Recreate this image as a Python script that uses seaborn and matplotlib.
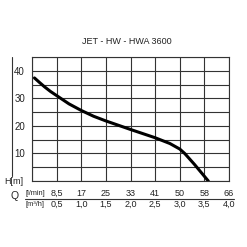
import numpy as np
import pandas as pd
import matplotlib
matplotlib.use("Agg")
import matplotlib.pyplot as plt
import matplotlib.transforms as mtransforms
import seaborn as sns

# curve data (Q in m3/h, H in m)
q_m3h = [0.05, 0.15, 0.26, 0.375, 0.5, 0.75, 1.0, 1.25, 1.5, 2.0, 2.5, 2.8, 3.0, 3.1, 3.3, 3.58]
h_m = [37.4, 35.8, 34.1, 32.5, 31.0, 28.0, 25.6, 23.5, 21.8, 18.7, 15.7, 13.6, 11.6, 10.0, 6.0, 0.0]

tick_pos = [0.5, 1.0, 1.5, 2.0, 2.5, 3.0, 3.5, 4.0]
lmin_labels = ["8,5", "17", "25", "33", "41", "50", "58", "66"]
m3h_labels = ["0,5", "1,0", "1,5", "2,0", "2,5", "3,0", "3,5", "4,0"]
y_ticks = [10, 20, 30, 40]

sns.set_style("white")
plt.rcParams["font.family"] = ["Liberation Sans", "DejaVu Sans"]

W = 247.0
fig = plt.figure(figsize=(2.47, 2.47), dpi=100)
ax = fig.add_axes([32 / W, 1 - 181 / W, 197 / W, 124 / W])

df = pd.DataFrame({"Q": q_m3h, "H": h_m})
sns.lineplot(data=df, x="Q", y="H", ax=ax, color="black", linewidth=2.2, sort=False)

ax.set_xlim(0, 4)
ax.set_ylim(0, 45)
ax.set_xticks(np.arange(0, 4.01, 0.5))
ax.set_yticks(np.arange(0, 45.1, 5), minor=True)
ax.set_yticks(y_ticks)
ax.set_xticklabels([])
ax.set_yticklabels([str(v) for v in y_ticks], fontsize=7, color="#222222")
ax.tick_params(axis="both", length=0, pad=5)
ax.grid(True, which="both", color="#333333", linewidth=0.8)
ax.set_axisbelow(True)
for s in ax.spines.values():
    s.set_color("#333333")
    s.set_linewidth(0.8)
ax.set_xlabel("")
ax.set_ylabel("")

# two-row flow axis below the chart
trans = mtransforms.blended_transform_factory(ax.transData, fig.transFigure)
for x, a, b in zip(tick_pos, lmin_labels, m3h_labels):
    ax.text(x, 1 - 193 / W, a, transform=trans, ha="center", va="center", fontsize=6.5, color="#222222")
    ax.text(x, 1 - 204 / W, b, transform=trans, ha="center", va="center", fontsize=6.5, color="#222222")

fig.add_artist(plt.Line2D([25 / W, 234 / W], [1 - 198.5 / W, 1 - 198.5 / W], color="#333333", linewidth=0.8))
fig.add_artist(plt.Line2D([11.5 / W, 11.5 / W], [1 - 57 / W, 1 - 176 / W], color="#333333", linewidth=0.8))

fig.text(25 / W, 1 - 193 / W, "[l/min]", ha="left", va="center", fontsize=5.3, color="#222222")
fig.text(25 / W, 1 - 204 / W, "[m³/h]", ha="left", va="center", fontsize=5.3, color="#222222")
fig.text(15 / W, 1 - 196 / W, "Q", ha="center", va="center", fontsize=7.5, color="#222222")
fig.text(14 / W, 1 - 182 / W, "H[m]", ha="center", va="center", fontsize=6.5, color="#222222")
fig.text(127 / W, 1 - 41 / W, "JET - HW - HWA 3600", ha="center", va="center", fontsize=6.5, color="#222222")

fig.savefig("out.png", dpi=100)
